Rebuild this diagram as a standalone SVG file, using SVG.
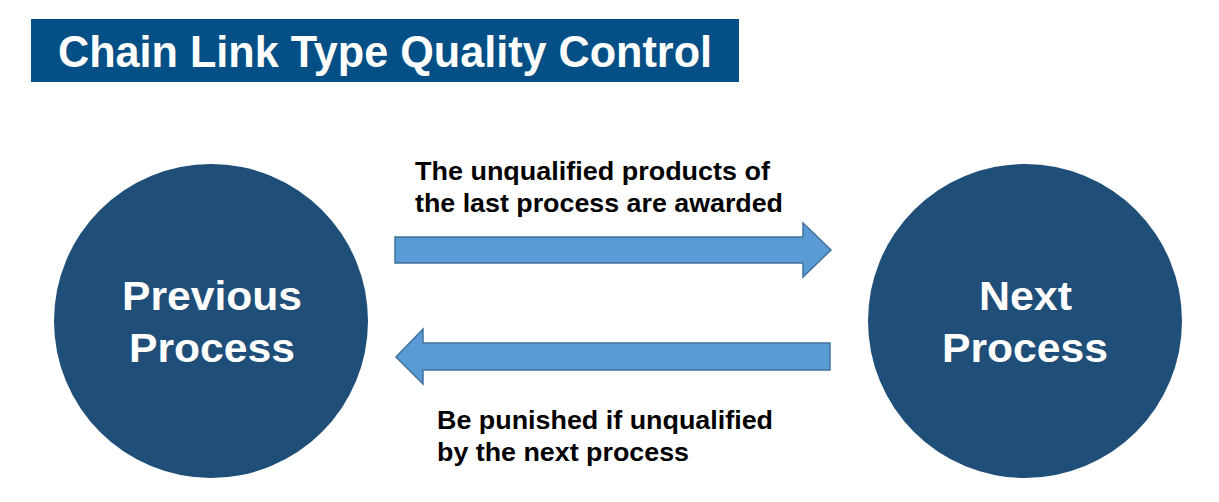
<svg xmlns="http://www.w3.org/2000/svg" width="1219" height="502" viewBox="0 0 1219 502">
<style>
.t{font-family:"Liberation Sans",Arial,sans-serif;font-weight:bold}
.node{fill:#1f4e79}
.nt{fill:#fff;font-size:40px}
.lab{fill:#000;font-size:25px}
.arr{fill:#5b9bd5;stroke:#41719c;stroke-width:1.5}
</style>
<rect width="1219" height="502" fill="#fff"/>
<g id="title">
<rect x="31" y="19" width="708" height="63" fill="#034f86"/>
<text class="t" x="58" y="67" fill="#fff" font-size="44" textLength="654" lengthAdjust="spacingAndGlyphs">Chain Link Type Quality Control</text>
</g>
<g id="previous">
<circle class="node" cx="211" cy="321" r="157"/>
<text class="t nt" x="122" y="310" textLength="180" lengthAdjust="spacingAndGlyphs">Previous</text>
<text class="t nt" x="129" y="362" textLength="166" lengthAdjust="spacingAndGlyphs">Process</text>
</g>
<g id="next">
<circle class="node" cx="1025" cy="321" r="157"/>
<text class="t nt" x="979" y="310" textLength="93" lengthAdjust="spacingAndGlyphs">Next</text>
<text class="t nt" x="942" y="362" textLength="166" lengthAdjust="spacingAndGlyphs">Process</text>
</g>
<g id="connectors">
<path class="arr" d="M395,237 H803 V223 L831,250 L803,277 V263 H395 Z"/>
<path class="arr" d="M830,343 H423 V329 L396,357 L423,384 V370 H830 Z"/>
</g>
<g id="labels">
<text class="t lab" x="415" y="180" textLength="355" lengthAdjust="spacingAndGlyphs">The unqualified products of</text>
<text class="t lab" x="415" y="212" textLength="368" lengthAdjust="spacingAndGlyphs">the last process are awarded</text>
<text class="t lab" x="437" y="429" textLength="336" lengthAdjust="spacingAndGlyphs">Be punished if unqualified</text>
<text class="t lab" x="437" y="461" textLength="252" lengthAdjust="spacingAndGlyphs">by the next process</text>
</g>
</svg>
